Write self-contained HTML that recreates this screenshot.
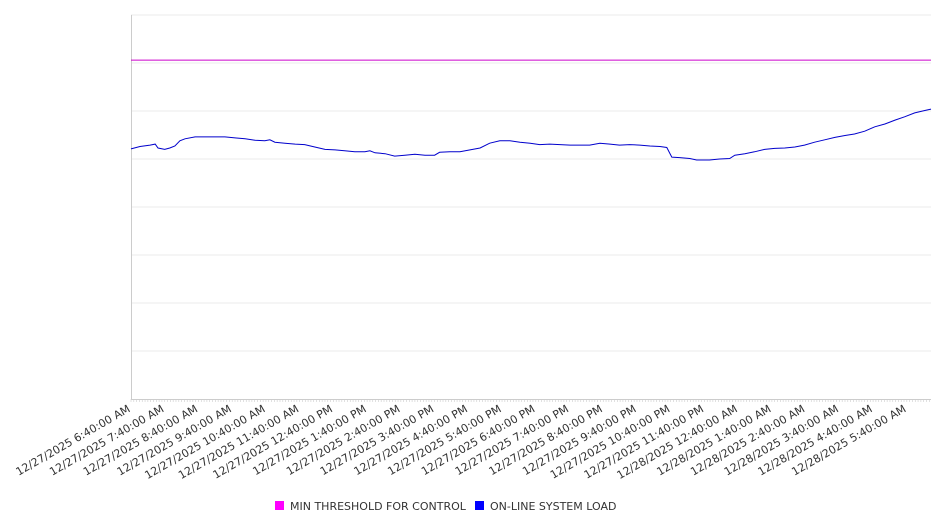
<!DOCTYPE html>
<html><head><meta charset="utf-8"><style>
body{margin:0;background:#fff;font-family:"Liberation Sans","DejaVu Sans",sans-serif}
</style></head><body>
<svg id="chart" width="946" height="526" xmlns="http://www.w3.org/2000/svg" font-family="DejaVu Sans, Liberation Sans, sans-serif"></svg>
<script>
const startLabels=["12/27/2025 6:40:00 AM","12/27/2025 7:40:00 AM","12/27/2025 8:40:00 AM","12/27/2025 9:40:00 AM","12/27/2025 10:40:00 AM","12/27/2025 11:40:00 AM","12/27/2025 12:40:00 PM","12/27/2025 1:40:00 PM","12/27/2025 2:40:00 PM","12/27/2025 3:40:00 PM","12/27/2025 4:40:00 PM","12/27/2025 5:40:00 PM","12/27/2025 6:40:00 PM","12/27/2025 7:40:00 PM","12/27/2025 8:40:00 PM","12/27/2025 9:40:00 PM","12/27/2025 10:40:00 PM","12/27/2025 11:40:00 PM","12/28/2025 12:40:00 AM","12/28/2025 1:40:00 AM","12/28/2025 2:40:00 AM","12/28/2025 3:40:00 AM","12/28/2025 4:40:00 AM","12/28/2025 5:40:00 AM"];
const loadMinutes=[0,16,34,43,48,60,69,78,87,96,114,149,167,185,203,221,238,247,256,274,292,309,327,345,363,380,398,416,425,434,452,469,487,505,523,540,549,567,585,603,621,638,656,674,692,710,727,745,763,781,798,816,834,852,869,887,905,923,941,953,962,976,994,1006,1029,1047,1065,1074,1092,1109,1127,1145,1163,1181,1198,1216,1234,1252,1270,1287,1305,1323,1341,1359,1376,1394,1412,1423];
const loadValues=[521,526,529,531,523,520,523,527,538,542,546,546,546,544,542,539,538,540,535,533,531,530,525,520,519,517,515,515,517,513,511,506,508,510,508,508,514,515,515,519,523,533,538,538,535,533,530,531,530,529,529,529,533,531,529,530,529,527,526,524,504,503,501,498,498,500,501,508,511,515,520,522,523,525,529,535,540,545,549,552,558,567,573,581,588,596,601,604];
const thresholdValue=[706];
const yTicks=[0,100,200,300,400,500,600,700,800];

const svg=document.getElementById('chart');
const NS='http://www.w3.org/2000/svg';
const X0=131,X1=931,Y0=399,Y1=15,TMAX=1423,VMAX=800;
const xs=t=>X0+(t/TMAX)*(X1-X0);
const ys=v=>Y0-(v/VMAX)*(Y0-Y1);
function mk(tag,attrs,parent){const e=document.createElementNS(NS,tag);for(const k in attrs)e.setAttribute(k,attrs[k]);(parent||svg).appendChild(e);return e;}

const grid=mk('g',{});


yTicks.forEach(v=>{if(v===0)return;const l=mk('line',{x1:X0,x2:X1,y1:ys(v),y2:ys(v),stroke:'#ebebeb','stroke-width':1},grid);

});

const ax=mk('line',{x1:X0+0.5,x2:X0+0.5,y1:Y1,y2:Y0,stroke:'#ccc'});


const bx=mk('line',{x1:X0,x2:X1,y1:Y0+0.5,y2:Y0+0.5,stroke:'#ccc'});


const ticks=mk('g',{});


for(let t=0;t<=TMAX;t+=5){mk('line',{x1:xs(t),x2:xs(t),y1:Y0,y2:Y0+3,stroke:'#ccc','stroke-width':0.6},ticks);}

const lab=mk('g',{});


startLabels.forEach((s,i)=>{const x=xs(i*60);const t=mk('text',{x:x,y:Y0+12,'font-size':11,fill:'#333','text-anchor':'end',transform:`rotate(-30 ${x} ${Y0+12})`},lab);t.textContent=s;

});

const th=mk('line',{x1:X0,x2:X1,y1:ys(thresholdValue[0]),y2:ys(thresholdValue[0]),stroke:'#cc00cc','stroke-width':1});



const pts=loadMinutes.map((t,i)=>xs(t).toFixed(1)+','+ys(loadValues[i]).toFixed(1)).join(' ');
const pl=mk('polyline',{points:pts,fill:'none',stroke:'#0000cc','stroke-width':1});



const lg=mk('g',{});


const r1=mk('rect',{x:275,y:501,width:9,height:9,fill:'#ff00ff'},lg);


const t1=mk('text',{x:290,y:510,'font-size':11,fill:'#333'},lg);t1.textContent='MIN THRESHOLD FOR CONTROL';


const r2=mk('rect',{x:475,y:501,width:9,height:9,fill:'#0000ff'},lg);


const t2=mk('text',{x:490,y:510,'font-size':11,fill:'#333'},lg);t2.textContent='ON-LINE SYSTEM LOAD';


</script>
</body></html>
